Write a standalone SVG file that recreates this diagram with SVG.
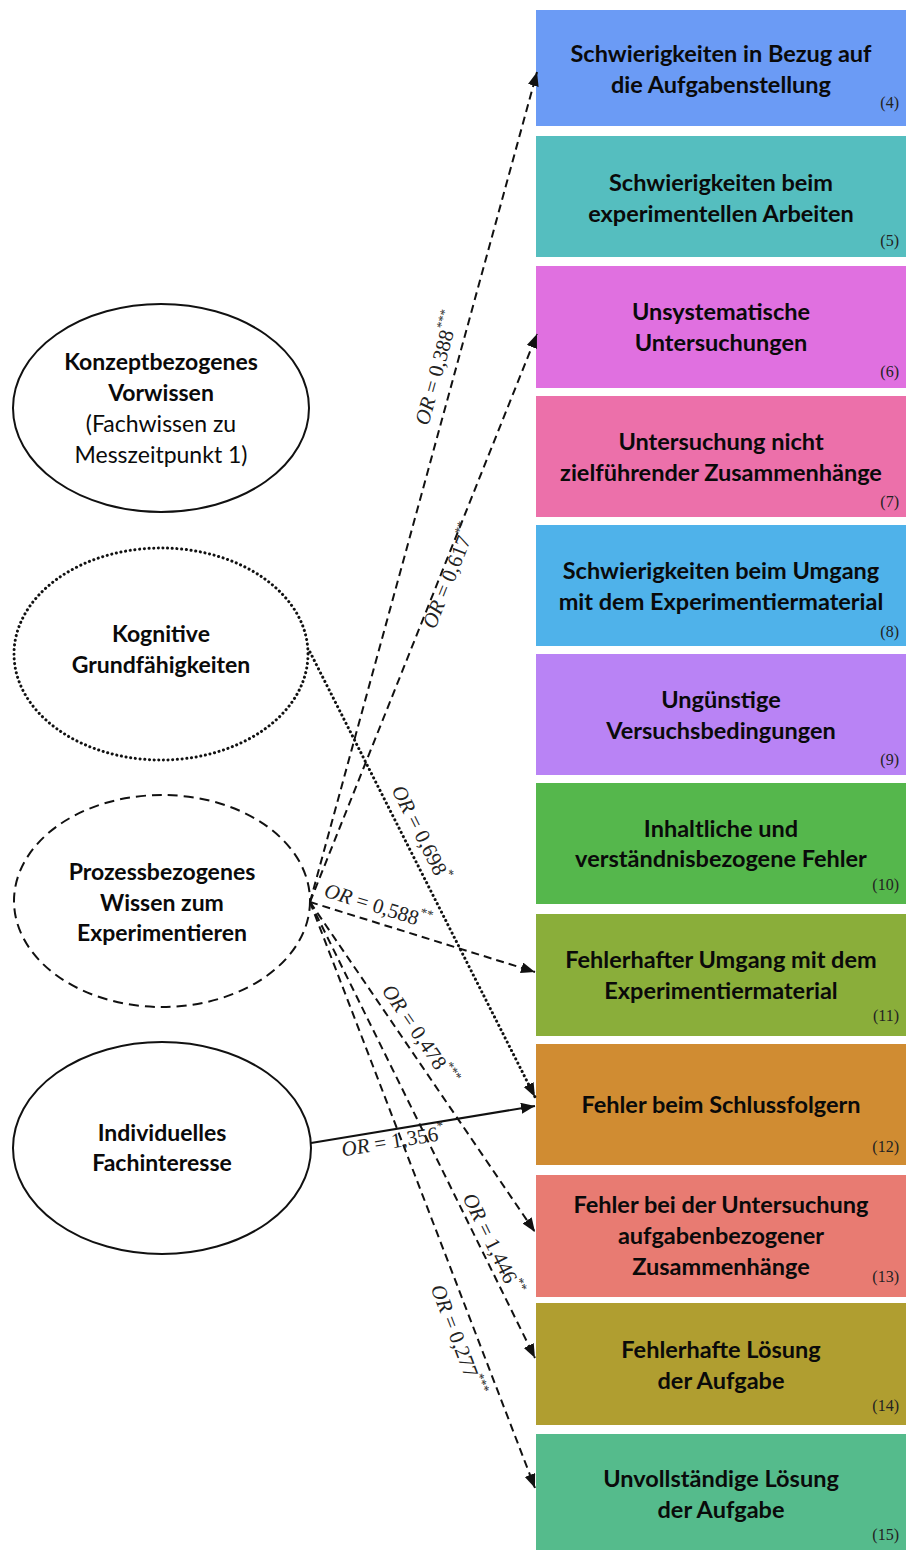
<svg xmlns="http://www.w3.org/2000/svg" width="906" height="1550" viewBox="0 0 906 1550">
  <style>
    .box-title { font-family: Lato, "Liberation Sans", sans-serif; font-weight: 700; font-size: 23.5px; fill: #0a0a0a; text-anchor: middle; }
    .box-num { font-family: "Liberation Serif", serif; font-size: 16px; fill: #222; text-anchor: end; }
    .ell-bold { font-family: Lato, "Liberation Sans", sans-serif; font-weight: 700; font-size: 23px; fill: #0a0a0a; text-anchor: middle; }
    .ell-reg { font-family: Lato, "Liberation Sans", sans-serif; font-weight: 400; font-size: 23px; fill: #0a0a0a; text-anchor: middle; }
    .ell { fill: #fff; stroke: #111; stroke-width: 2; }
    .ell-dot { stroke-dasharray: 0.1 4.6; stroke-linecap: round; stroke-width: 3; }
    .ell-dash { stroke-dasharray: 10 6; }
    .edge { fill: none; stroke: #111; stroke-width: 2; }
    .dash { stroke-dasharray: 8 5; }
    .dot { stroke-dasharray: 0.1 4.6; stroke-linecap: round; stroke-width: 3; }
    .lbl { font-family: "Liberation Serif", serif; font-size: 21px; fill: #222; text-anchor: middle; dominant-baseline: central; }
    .lbl .it { font-style: italic; }
    .lbl .sup { font-size: 13px; }
  </style>
  <defs>
    <marker id="arrow" markerUnits="userSpaceOnUse" markerWidth="15" markerHeight="12" refX="14" refY="5.5" orient="auto">
      <path d="M0,0 L14,5.5 L0,11 z" fill="#111"/>
    </marker>
  </defs>

  <rect width="906" height="1550" fill="#fff"/>

  <!-- outcome boxes -->
  <g id="box4">
    <rect x="536" y="10" width="370" height="116" fill="#6B9BF5"/>
    <text class="box-title" x="721" y="62">Schwierigkeiten in Bezug auf</text>
    <text class="box-title" x="721" y="93">die Aufgabenstellung</text>
    <text class="box-num" x="899" y="108">(4)</text>
  </g>
  <g id="box5">
    <rect x="536" y="136" width="370" height="121" fill="#55BEBF"/>
    <text class="box-title" x="721" y="191">Schwierigkeiten beim</text>
    <text class="box-title" x="721" y="222">experimentellen Arbeiten</text>
    <text class="box-num" x="899" y="246">(5)</text>
  </g>
  <g id="box6">
    <rect x="536" y="266" width="370" height="122" fill="#E070E0"/>
    <text class="box-title" x="721" y="320">Unsystematische</text>
    <text class="box-title" x="721" y="351">Untersuchungen</text>
    <text class="box-num" x="899" y="377">(6)</text>
  </g>
  <g id="box7">
    <rect x="536" y="396" width="370" height="121" fill="#EC70AA"/>
    <text class="box-title" x="721" y="450">Untersuchung nicht</text>
    <text class="box-title" x="721" y="481">zielführender Zusammenhänge</text>
    <text class="box-num" x="899" y="507">(7)</text>
  </g>
  <g id="box8">
    <rect x="536" y="525" width="370" height="121" fill="#4FB2EA"/>
    <text class="box-title" x="721" y="579">Schwierigkeiten beim Umgang</text>
    <text class="box-title" x="721" y="610">mit dem Experimentiermaterial</text>
    <text class="box-num" x="899" y="637">(8)</text>
  </g>
  <g id="box9">
    <rect x="536" y="654" width="370" height="121" fill="#B983F5"/>
    <text class="box-title" x="721" y="708">Ungünstige</text>
    <text class="box-title" x="721" y="739">Versuchsbedingungen</text>
    <text class="box-num" x="899" y="765">(9)</text>
  </g>
  <g id="box10">
    <rect x="536" y="783" width="370" height="121" fill="#55B74C"/>
    <text class="box-title" x="721" y="837">Inhaltliche und</text>
    <text class="box-title" x="721" y="867">verständnisbezogene Fehler</text>
    <text class="box-num" x="899" y="890">(10)</text>
  </g>
  <g id="box11">
    <rect x="536" y="914" width="370" height="122" fill="#8AAE3A"/>
    <text class="box-title" x="721" y="968">Fehlerhafter Umgang mit dem</text>
    <text class="box-title" x="721" y="999">Experimentiermaterial</text>
    <text class="box-num" x="899" y="1021">(11)</text>
  </g>
  <g id="box12">
    <rect x="536" y="1044" width="370" height="121" fill="#D08C32"/>
    <text class="box-title" x="721" y="1113">Fehler beim Schlussfolgern</text>
    <text class="box-num" x="899" y="1152">(12)</text>
  </g>
  <g id="box13">
    <rect x="536" y="1175" width="370" height="122" fill="#E87B72"/>
    <text class="box-title" x="721" y="1213">Fehler bei der Untersuchung</text>
    <text class="box-title" x="721" y="1244">aufgabenbezogener</text>
    <text class="box-title" x="721" y="1275">Zusammenhänge</text>
    <text class="box-num" x="899" y="1282">(13)</text>
  </g>
  <g id="box14">
    <rect x="536" y="1303" width="370" height="122" fill="#B09E30"/>
    <text class="box-title" x="721" y="1358">Fehlerhafte Lösung</text>
    <text class="box-title" x="721" y="1389">der Aufgabe</text>
    <text class="box-num" x="899" y="1411">(14)</text>
  </g>
  <g id="box15">
    <rect x="536" y="1434" width="370" height="116" fill="#55BB8C"/>
    <text class="box-title" x="721" y="1487">Unvollständige Lösung</text>
    <text class="box-title" x="721" y="1518">der Aufgabe</text>
    <text class="box-num" x="899" y="1540">(15)</text>
  </g>

  <!-- predictor ellipses -->
  <g id="konzept">
    <ellipse class="ell" cx="161" cy="408" rx="148" ry="104"/>
    <text class="ell-bold" x="161" y="370">Konzeptbezogenes</text>
    <text class="ell-bold" x="161" y="401">Vorwissen</text>
    <text class="ell-reg" x="161" y="432">(Fachwissen zu</text>
    <text class="ell-reg" x="161" y="463">Messzeitpunkt 1)</text>
  </g>
  <g id="kognitiv">
    <ellipse class="ell ell-dot" cx="161" cy="654" rx="147" ry="106"/>
    <text class="ell-bold" x="161" y="642">Kognitive</text>
    <text class="ell-bold" x="161" y="673">Grundfähigkeiten</text>
  </g>
  <g id="prozess">
    <ellipse class="ell ell-dash" cx="162" cy="901" rx="148" ry="106"/>
    <text class="ell-bold" x="162" y="880">Prozessbezogenes</text>
    <text class="ell-bold" x="162" y="911">Wissen zum</text>
    <text class="ell-bold" x="162" y="941">Experimentieren</text>
  </g>
  <g id="interesse">
    <ellipse class="ell" cx="162" cy="1148" rx="149" ry="106"/>
    <text class="ell-bold" x="162" y="1141">Individuelles</text>
    <text class="ell-bold" x="162" y="1171">Fachinteresse</text>
  </g>

  <!-- connectors with odds ratios -->
  <g id="connectors">
    <path class="edge dash" d="M310,902 L537,72" marker-end="url(#arrow)"/>
    <path class="edge dash" d="M310,902 L537,334" marker-end="url(#arrow)"/>
    <path class="edge dot" d="M310,652 L535,1097" marker-end="url(#arrow)"/>
    <path class="edge dash" d="M310,902 L535,972" marker-end="url(#arrow)"/>
    <path class="edge dash" d="M310,902 L535,1232" marker-end="url(#arrow)"/>
    <path class="edge dash" d="M310,902 L535,1358" marker-end="url(#arrow)"/>
    <path class="edge dash" d="M310,902 L535,1488" marker-end="url(#arrow)"/>
    <path class="edge" d="M311,1143 L535,1106" marker-end="url(#arrow)"/>

    <text class="lbl" transform="translate(437,368) rotate(-74.7)"><tspan class="it">OR</tspan> = 0,388<tspan class="sup" dy="-8">***</tspan></text>
    <text class="lbl" transform="translate(449,576) rotate(-68.2)"><tspan class="it">OR</tspan> = 0,617<tspan class="sup" dy="-8">**</tspan></text>
    <text class="lbl" transform="translate(421,833) rotate(63.2)"><tspan class="it">OR</tspan> = 0,698<tspan class="sup" dy="-8">*</tspan></text>
    <text class="lbl" transform="translate(378,906) rotate(17.3)"><tspan class="it">OR</tspan> = 0,588<tspan class="sup" dy="-8">**</tspan></text>
    <text class="lbl" transform="translate(420,1035) rotate(55.7)"><tspan class="it">OR</tspan> = 0,478<tspan class="sup" dy="-8">***</tspan></text>
    <text class="lbl" transform="translate(393,1141) rotate(-9.4)"><tspan class="it">OR</tspan> = 1,356<tspan class="sup" dy="-8">*</tspan></text>
    <text class="lbl" transform="translate(493,1244) rotate(63.7)"><tspan class="it">OR</tspan> = 1,446<tspan class="sup" dy="-8">**</tspan></text>
    <text class="lbl" transform="translate(458,1340) rotate(69)"><tspan class="it">OR</tspan> = 0,277<tspan class="sup" dy="-8">***</tspan></text>
  </g>
</svg>
